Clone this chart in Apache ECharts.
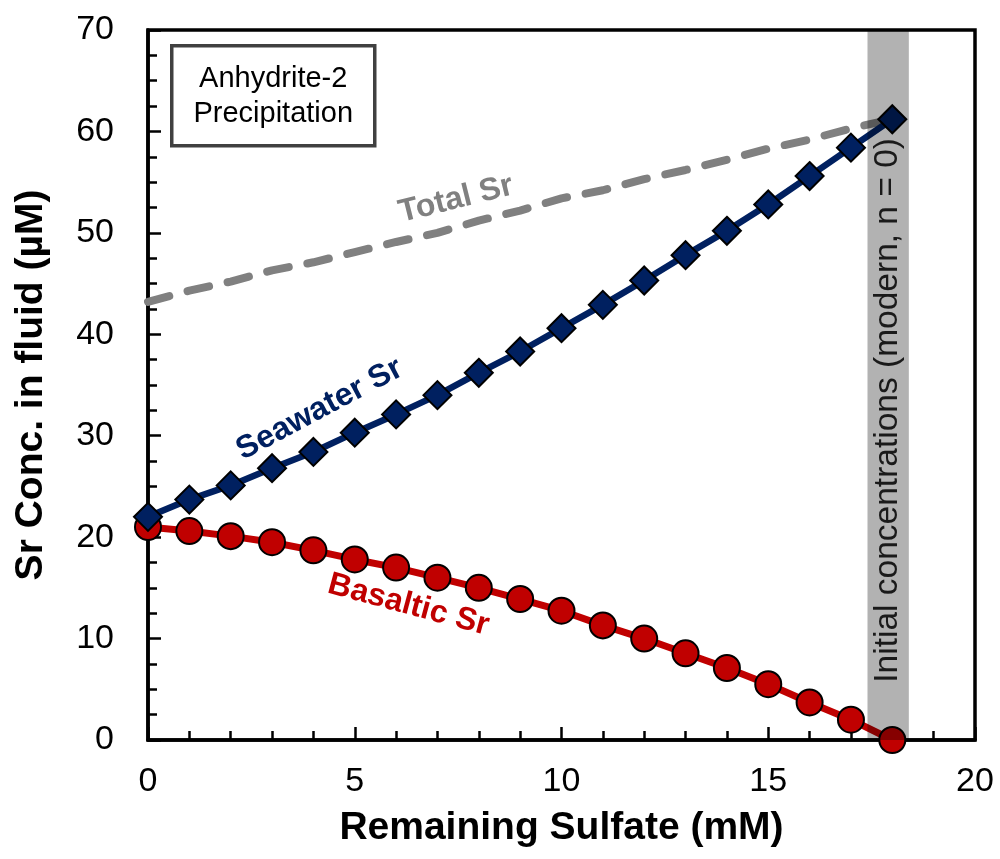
<!DOCTYPE html>
<html>
<head>
<meta charset="utf-8">
<style>
  html, body { margin: 0; padding: 0; background: #fff; }
  #chart { width: 1000px; height: 859px; }
</style>
<script src="https://cdn.jsdelivr.net/npm/echarts@6/dist/echarts.min.js"></script>
</head>
<body>
<div id="chart"></div>
<script>
// Remaining sulfate (mM) at each model step
const sulfate = [0, 1, 2, 3, 4, 5, 6, 7, 8, 9, 10, 11, 12, 13, 14, 15, 16, 17, 18];
// Sr concentrations in fluid (µM)
const seawaterSr = [22.0, 23.7, 25.1, 26.8, 28.4, 30.3, 32.1, 34.0, 36.2, 38.3, 40.6, 42.9, 45.3, 47.8, 50.2, 52.8, 55.6, 58.4, 61.2];
const basalticSr = [21.0, 20.6, 20.1, 19.5, 18.7, 17.8, 17.0, 16.0, 15.0, 13.9, 12.75, 11.3, 10.0, 8.55, 7.1, 5.5, 3.7, 2.0, 0.0];
const totalSr    = [43.2, 44.3, 45.2, 46.3, 47.1, 48.1, 49.1, 50.0, 51.2, 52.2, 53.4, 54.2, 55.3, 56.2, 57.2, 58.3, 59.2, 60.3, 61.2];
// Shaded band marking the initial (modern) composition, in sulfate units
const initialBand = [17.4, 18.4];
const bandText = 'Initial concentrations (modern, n = 0)';
const boxText = 'Anhydrite-2\nPrecipitation';
// Axis settings
const xTicks = { min: 0, max: 20, interval: 5 };
const yTicks = { min: 0, max: 70, interval: 10 };

const FONT = '"Liberation Sans", Arial, sans-serif';
const pairs = (ys) => sulfate.map((x, i) => [x, ys[i]]);

const chart = echarts.init(document.getElementById('chart'), null, { renderer: 'canvas' });

const axisCommon = {
  axisLine: { show: true, lineStyle: { color: '#000', width: 3.5 } },
  axisTick: { show: true, inside: true, length: 13, lineStyle: { color: '#000', width: 2.5 } },
  minorTick: { show: true, length: 9, lineStyle: { color: '#000', width: 2.5 } },
  splitLine: { show: false },
  minorSplitLine: { show: false },
  axisLabel: { color: '#000', fontSize: 34, fontFamily: FONT },
  nameLocation: 'middle',
  nameTextStyle: { color: '#000', fontSize: 39, fontWeight: 'bold', fontFamily: FONT }
};

function lineLabel(text, coord, rotate, color) {
  return {
    symbol: 'circle',
    symbolSize: 0,
    silent: true,
    itemStyle: { color: 'transparent' },
    label: {
      show: true, position: 'inside', formatter: text, rotate: rotate,
      color: color, fontSize: 32, fontWeight: 'bold', fontFamily: FONT
    },
    data: [{ coord: coord }]
  };
}

chart.setOption({
  animation: false,
  backgroundColor: '#fff',
  grid: { left: 148, right: 25, top: 30, bottom: 119, show: true, borderColor: '#000', borderWidth: 3.5, backgroundColor: 'transparent' },
  xAxis: Object.assign({}, axisCommon, {
    type: 'value', min: xTicks.min, max: xTicks.max, interval: xTicks.interval,
    minorTick: Object.assign({}, axisCommon.minorTick, { splitNumber: 5 }),
    axisLabel: Object.assign({}, axisCommon.axisLabel, { margin: 25 }),
    name: 'Remaining Sulfate (mM)', nameGap: 69
  }),
  yAxis: Object.assign({}, axisCommon, {
    type: 'value', min: yTicks.min, max: yTicks.max, interval: yTicks.interval,
    minorTick: Object.assign({}, axisCommon.minorTick, { splitNumber: 4 }),
    axisLabel: Object.assign({}, axisCommon.axisLabel, { margin: 34 }),
    name: 'Sr Conc. in fluid (µM)', nameGap: 97
  }),
  graphic: [{
    type: 'group',
    left: 170, top: 44,
    children: [
      { type: 'rect', shape: { x: 0, y: 0, width: 203, height: 100 },
        style: { fill: '#fff', stroke: '#404040', lineWidth: 3.5 } },
      { type: 'text', x: 101.5, y: 51,
        style: { text: boxText, fill: '#000', font: '29px ' + FONT, align: 'center', verticalAlign: 'middle', lineHeight: 35 } }
    ]
  }],
  series: [
    {
      name: 'Total Sr', type: 'line', data: pairs(totalSr), clip: false,
      showSymbol: false, symbol: 'none', z: 2,
      lineStyle: { color: '#808080', width: 8, type: [22, 19], cap: 'round' },
      markPoint: lineLabel('Total Sr', [7.45, 53.3], 14, '#808080')
    },
    {
      name: 'Basaltic Sr', type: 'line', data: pairs(basalticSr), clip: false,
      symbol: 'circle', symbolSize: 26, z: 3,
      lineStyle: { color: '#c00000', width: 7 },
      itemStyle: { color: '#c00000', borderColor: '#000', borderWidth: 2 },
      markPoint: lineLabel('Basaltic Sr', [6.3, 13.3], -15, '#c00000')
    },
    {
      name: 'Seawater Sr', type: 'line', data: pairs(seawaterSr), clip: false,
      symbol: 'diamond', symbolSize: [28, 28], z: 4,
      lineStyle: { color: '#002060', width: 6.5 },
      itemStyle: { color: '#002060', borderColor: '#000', borderWidth: 2 },
      markPoint: lineLabel('Seawater Sr', [4.15, 32.6], 28, '#002060')
    },
    {
      name: 'Initial band', type: 'custom', z: 10, silent: true,
      data: [initialBand],
      renderItem: function (params, api) {
        const x0 = api.value(0), x1 = api.value(1);
        const tl = api.coord([x0, yTicks.max]);
        const br = api.coord([x1, yTicks.min]);
        const mid = api.coord([(x0 + x1) / 2, 32.5]);
        return {
          type: 'group',
          children: [
            { type: 'rect', shape: { x: tl[0], y: tl[1], width: br[0] - tl[0], height: br[1] - tl[1] },
              style: { fill: 'rgba(0,0,0,0.3)' } },
            { type: 'text', x: mid[0], y: mid[1], rotation: Math.PI / 2,
              style: { text: bandText, fill: '#1a1a1a', font: '33.5px ' + FONT, align: 'center', verticalAlign: 'middle' } }
          ]
        };
      }
    }
  ]
});
</script>
</body>
</html>
